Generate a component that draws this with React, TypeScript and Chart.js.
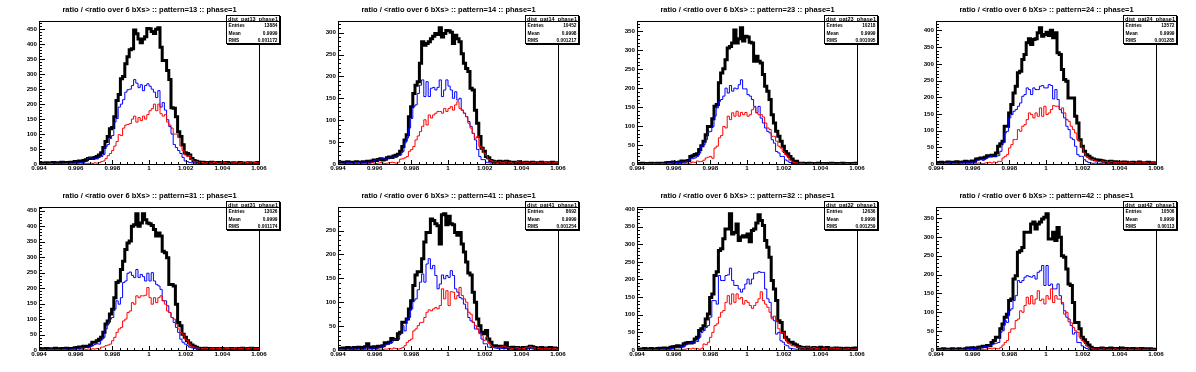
import React, { useEffect, useRef } from "react";
import { Chart, registerables } from "chart.js";

Chart.register(...registerables);

const X_MIN = 0.994;
const X_MAX = 1.006;
const N_BINS = 100;
const X_TICKS = [0.994, 0.996, 0.998, 1, 1.002, 1.004, 1.006];
const X_TICK_LABELS = ["0.994", "0.996", "0.998", "1", "1.002", "1.004", "1.006"];
const X_MINOR_PER_MAJOR = 5;
const Y_TICK_STEP = 50;
const Y_MINOR_PER_MAJOR = 5;

const PATTERNS = ["13", "14", "23", "24", "31", "41", "32", "42"];
const ENTRIES = ["13884", "10452", "10218", "13572", "13026", "8692", "12636", "10506"];
const MEANS = ["0.9999", "0.9998", "0.9999", "0.9999", "0.9999", "0.9999", "0.9999", "0.9999"];
const RMS_VALUES = ["0.001172", "0.001217", "0.001095", "0.001285", "0.001174", "0.001254", "0.001259", "0.00113"];
const Y_LABEL_TOPS = [450, 300, 350, 400, 450, 250, 400, 350];

// ---- pattern 13 ----
const P13_TOTAL = [
  2,3,1,4,2,3,5,2,4,3, 6,3,5,4,6,5,8,7,10,9, 12,14,
  18,20,18,22,25,30,38,55,75,92, 118,122,158,212,232,285,292,335,358,382, 385,448,435,418,405,418,425,453,452,443, 436,450,455,390,346,346,312,282,188,186, 158,108,92,64,38,35,30,18,12,9,
  7,5,6,4,5,3,6,4,3,5, 2,4,3,5,2,3,4,2,3,5, 2,3,1,4,2,3,2,5,
];
const P13_BLUE = [
  0,1,0,2,1,0,3,1,2,1, 3,2,1,2,3,2,4,3,5,4, 6,8,
  20,22,15,18,17,22,25,32,58,65, 85,95,140,152,190,200,215,240,248,250, 262,282,270,255,265,245,262,268,260,250, 240,222,245,190,205,180,148,125,100,65, 55,45,35,22,10,8,5,4,3,2,
  2,1,3,1,2,0,2,1,1,2, 0,1,2,1,0,1,2,0,1,1, 0,2,1,0,1,2,0,1,
];
const P13_RED = [
  0,0,1,0,0,2,0,1,0,0, 1,0,2,0,1,0,1,2,0,1, 2,1,
  2,3,2,4,3,5,8,10,18,28, 35,45,60,75,98,95,120,130,132,135, 150,160,140,155,145,160,150,165,178,185, 200,178,200,168,160,165,140,130,120,100, 100,88,60,45,30,25,28,15,9,8,
  6,4,5,3,6,4,3,5,4,2, 4,3,5,3,2,4,3,5,2,4, 6,3,5,4,6,3,5,4,
];

// ---- pattern 14 ----
const P14_TOTAL = [
  3,2,4,3,5,2,4,3,5,4, 3,5,4,6,5,7,9,8,10,12, 9,11,
  14,16,15,18,20,22,29,40,55,67, 108,131,161,180,188,230,279,271,275,279, 286,292,298,296,311,290,298,305,304,301, 275,294,286,279,252,230,218,211,173,169, 123,93,63,36,29,17,14,8,6,5,
  5,6,4,5,6,5,4,3,4,3, 5,2,3,4,3,2,4,3,2,3, 4,2,3,2,3,4,2,3,
];
const P14_BLUE = [
  1,2,1,3,2,4,1,3,2,4, 3,2,4,3,5,4,8,10,9,11, 12,10,
  12,15,14,16,15,20,21,29,48,59, 82,104,131,135,161,180,192,154,188,154, 173,175,169,175,192,154,169,192,178,169, 150,165,146,150,123,116,108,97,86,70, 55,33,17,10,10,4,3,2,2,1,
  2,1,0,2,1,1,0,2,1,0, 1,2,0,1,1,0,2,1,0,1, 0,1,2,0,1,0,1,1,
];
const P14_RED = [
  0,1,0,0,2,0,1,0,2,1, 0,1,0,2,1,3,2,1,2,3, 2,1,
  2,3,4,3,2,4,11,12,14,17, 29,33,40,55,64,74,86,101,89,112, 105,112,116,120,120,116,127,120,127,131, 123,135,142,127,123,116,108,93,82,70, 59,63,40,36,25,19,11,8,6,5,
  4,5,3,4,5,3,4,2,3,5, 4,3,2,4,3,2,3,4,2,3, 2,4,3,2,3,2,3,4,
];

// ---- pattern 23 ----
const P23_TOTAL = [
  1,0,2,1,0,1,2,0,1,2, 1,2,1,3,4,3,5,4,3,5, 8,7,
  8,9,20,22,25,27,38,48,60,77, 99,99,119,152,157,214,240,251,275,306, 310,319,353,319,330,359,324,337,335,321, 319,271,284,271,266,236,205,192,170,130, 108,86,73,60,47,33,27,20,13,4,
  7,2,1,2,0,1,2,1,0,1, 2,1,0,1,1,0,2,1,0,1, 1,2,0,1,0,1,1,2,
];
const P23_BLUE = [
  0,1,0,0,1,0,2,1,0,1, 0,2,1,2,3,2,4,3,5,4, 6,5,
  7,8,15,14,16,20,29,47,51,64, 84,86,99,126,148,165,170,179,200,187, 207,192,200,198,209,222,198,198,183,179, 170,152,135,152,121,108,95,86,82,64, 55,33,29,20,20,11,8,4,2,1,
  1,0,1,0,0,1,0,1,0,0, 1,0,0,1,0,0,1,0,0,0, 1,0,0,1,0,0,0,1,
];
const P23_RED = [
  0,0,0,1,0,0,0,1,0,0, 0,1,0,0,1,0,0,1,0,1, 0,1,
  2,1,3,5,4,8,6,7,10,16, 18,20,15,42,47,69,75,99,95,126, 117,135,126,139,126,136,130,136,126,130, 143,150,135,130,130,124,108,95,91,73, 73,60,47,42,33,25,20,11,7,4,
  3,1,2,1,0,1,0,1,2,0, 1,0,1,0,0,1,0,1,0,0, 1,0,0,1,0,0,1,0,
];

// ---- pattern 24 ----
const P24_TOTAL = [
  3,2,5,3,4,6,3,5,4,7, 5,4,6,8,5,7,9,8,15,16, 18,17,
  20,25,24,26,25,33,53,61,68,113, 113,153,178,213,233,273,278,313,328,363, 375,358,373,375,393,408,383,388,395,385, 401,378,393,333,328,283,253,248,198,198, 198,143,123,73,53,38,28,23,18,15,
  13,12,11,10,8,7,6,8,5,7, 6,5,4,6,5,3,4,5,3,4, 6,3,4,3,5,2,4,3,
];
const P24_BLUE = [
  1,2,0,3,1,2,4,2,3,1, 4,2,3,5,4,3,6,5,10,12, 14,11,
  15,20,22,25,24,23,25,38,63,93, 98,138,148,158,163,173,183,203,208,228, 223,208,228,223,223,233,235,228,228,238, 235,195,223,193,163,153,138,113,103,78, 73,53,28,23,23,13,8,4,3,2,
  3,2,1,2,3,1,2,1,0,2, 1,1,2,0,1,1,2,0,1,2, 1,0,1,1,0,2,1,1,
];
const P24_RED = [
  0,1,0,0,2,1,0,1,0,2, 0,1,2,0,1,0,2,1,2,3, 2,1,
  3,4,5,3,6,4,8,8,18,23, 28,48,58,73,73,103,98,113,118,133, 153,148,138,153,143,168,143,173,148,153, 163,175,173,173,163,168,153,133,128,113, 103,93,73,68,48,33,23,18,13,13,
  10,8,7,9,6,8,5,7,6,5, 4,6,3,5,4,3,5,4,2,4, 3,5,3,4,2,3,4,3,
];

// ---- pattern 31 ----
const P31_TOTAL = [
  2,4,3,5,2,4,3,6,4,3, 5,4,6,3,5,4,7,8,10,9, 12,11,
  12,16,25,25,30,35,41,57,84,94, 116,132,169,218,223,260,287,325,346,352, 400,405,440,400,410,440,421,410,408,402, 389,368,378,368,319,314,298,212,212,207, 148,89,78,51,41,30,23,16,12,9,
  6,5,4,6,3,5,4,3,5,4, 3,5,4,3,4,5,3,4,5,4, 6,5,4,5,6,5,4,5,
];
const P31_BLUE = [
  1,0,2,1,0,3,1,2,0,2, 1,3,2,1,3,2,4,5,6,8, 7,9,
  10,12,15,18,20,19,33,41,68,84, 100,105,132,159,148,169,218,223,248,252, 241,234,260,234,244,237,223,248,223,250, 223,212,207,196,159,159,143,121,105,89, 73,57,35,25,19,14,9,7,5,4,
  3,2,1,2,3,1,0,2,1,1, 2,0,1,2,1,0,1,2,0,1, 1,0,2,1,0,1,1,2,
];
const P31_RED = [
  0,0,1,0,1,0,2,0,1,0, 1,2,0,1,0,2,1,0,2,1, 3,2,
  3,2,4,3,5,3,9,10,14,16, 19,30,41,57,68,73,94,100,121,126, 153,148,175,169,175,175,177,202,169,148, 169,153,169,175,159,148,126,121,105,100, 84,68,57,51,35,30,19,12,9,7,
  6,5,4,6,5,3,5,4,6,4, 5,3,6,4,5,5,4,6,5,4, 5,6,4,5,6,5,4,5,
];

// ---- pattern 41 ----
const P41_TOTAL = [
  2,3,4,3,5,4,3,5,4,6, 4,5,7,13,6,5,7,6,8,7, 9,15,
  14,16,24,22,22,34,37,58,58,65, 86,103,135,157,164,164,191,226,246,246, 274,271,264,260,222,283,285,262,280,264, 262,246,240,246,222,205,184,161,157,121, 100,65,51,37,34,41,23,16,8,9,
  8,7,8,6,15,5,4,6,3,5, 4,3,5,4,6,8,7,5,4,3, 5,4,3,4,5,3,4,3,
];
const P41_BLUE = [
  1,2,1,0,2,1,3,2,1,3, 2,1,4,6,3,2,4,3,5,6, 8,10,
  12,15,16,22,22,22,34,51,40,65, 68,86,103,107,126,142,159,142,180,191, 170,177,156,128,138,157,149,156,152,166, 156,128,121,110,107,96,86,68,61,58, 44,44,37,23,13,13,6,5,6,4,
  3,2,4,2,3,1,2,3,1,2, 1,0,2,1,3,4,2,1,2,1, 0,2,1,1,0,2,1,1,
];
const P41_RED = [
  0,1,0,0,1,0,0,2,0,1, 0,0,1,2,0,1,0,1,2,0, 1,2,
  2,3,2,4,3,2,3,5,9,16, 20,23,40,44,51,57,58,68,79,84, 82,86,89,86,93,128,107,124,93,122, 121,107,114,131,114,107,100,79,75,58, 51,44,34,30,20,27,16,10,6,5,
  6,5,7,8,6,5,4,3,4,5, 3,4,3,6,5,7,5,4,3,4, 2,3,4,2,3,2,3,2,
];

// ---- pattern 32 ----
const P32_TOTAL = [
  2,3,2,4,3,2,4,3,2,4, 5,5,6,5,4,8,9,10,12,9, 11,18,
  20,21,20,22,31,36,55,60,69,88, 102,149,159,211,222,282,287,315,343,343, 386,329,333,357,310,320,324,320,329,307, 339,343,360,383,367,353,310,291,263,197, 173,140,83,78,50,36,29,22,22,17,
  14,10,8,6,7,8,5,6,7,5, 6,8,5,6,7,5,4,5,6,4, 5,3,4,5,3,4,5,6,
];
const P32_BLUE = [
  0,1,0,2,1,0,1,2,0,1, 2,1,3,2,1,4,5,6,7,8, 9,10,
  15,18,20,22,25,24,36,50,55,64, 69,93,140,140,130,211,197,197,211,213, 232,197,183,183,173,164,173,187,201,187, 201,218,218,222,220,220,173,145,135,93, 83,45,50,26,22,14,12,5,4,3,
  2,3,1,2,1,0,2,1,1,0, 2,1,0,1,2,0,1,1,0,2, 1,0,1,1,2,0,1,1,
];
const P32_RED = [
  0,0,1,0,0,1,0,0,1,0, 0,2,0,1,0,1,0,2,1,0, 1,2,
  3,4,3,5,3,4,2,5,17,15, 22,36,50,69,74,93,107,112,135,154, 130,159,135,159,145,149,130,140,135,126, 118,126,135,145,165,140,130,121,107,88, 96,83,60,50,50,31,22,17,12,12,
  9,8,6,7,5,8,6,5,7,4, 5,3,4,5,3,5,6,5,4,5, 3,4,2,3,4,3,2,3,
];

// ---- pattern 42 ----
const P42_TOTAL = [
  1,2,1,3,2,1,2,3,1,2, 3,2,1,3,5,4,6,5,4,7, 8,10,
  9,12,11,20,25,34,34,56,69,87, 95,131,135,188,197,259,263,272,312,312, 312,334,339,321,334,339,347,352,361,294, 294,312,290,325,299,250,246,215,175,171, 126,73,73,56,34,27,20,13,7,4,
  3,4,3,5,3,4,2,5,4,3, 4,3,5,3,4,2,3,4,3,2, 3,4,2,3,2,3,2,2,
];
const P42_BLUE = [
  0,1,0,1,2,0,1,0,2,1, 0,1,2,1,3,4,5,4,6,5, 7,8,
  9,10,12,14,16,18,20,47,51,78, 73,104,109,131,144,184,179,184,193,197, 195,193,197,188,206,210,224,171,224,171, 175,162,162,175,144,122,104,87,82,65, 42,47,20,20,11,7,4,2,1,2,
  1,0,2,1,0,1,1,0,2,0, 1,1,0,1,0,2,1,0,1,0, 1,1,0,0,1,0,1,0,
];
const P42_RED = [
  0,0,1,0,0,1,0,0,0,1, 0,1,0,0,1,0,1,0,0,1, 2,1,
  2,3,4,3,5,4,3,7,13,20, 25,47,56,56,78,82,104,100,118,140, 122,144,122,135,157,131,135,122,144,135, 162,126,144,135,135,126,95,100,75,72, 60,51,47,34,25,20,11,7,4,3,
  2,3,1,2,3,1,2,2,1,3, 2,1,2,1,3,2,1,2,1,2, 3,1,2,1,2,1,2,1,
];

const TOTALS = [P13_TOTAL, P14_TOTAL, P23_TOTAL, P24_TOTAL, P31_TOTAL, P41_TOTAL, P32_TOTAL, P42_TOTAL];
const BLUES = [P13_BLUE, P14_BLUE, P23_BLUE, P24_BLUE, P31_BLUE, P41_BLUE, P32_BLUE, P42_BLUE];
const REDS = [P13_RED, P14_RED, P23_RED, P24_RED, P31_RED, P41_RED, P32_RED, P42_RED];

const FONT = "'Liberation Sans', Arial, Helvetica, sans-serif";
const PANEL_W = 299;
const PANEL_H = 186;

function makeFramePlugin(yMax: number) {
  return {
    id: "rootFrame",
    afterDatasetsDraw(chart: any) {
      const { ctx, chartArea, scales } = chart;
      const L = Math.round(chartArea.left);
      const R = Math.round(chartArea.right);
      const T = Math.round(chartArea.top);
      const B = Math.round(chartArea.bottom);
      ctx.save();
      ctx.strokeStyle = "#000";
      ctx.lineWidth = 1;
      ctx.strokeRect(L + 0.5, T + 0.5, R - L, B - T);
      ctx.beginPath();
      const xStep = (X_TICKS[1] - X_TICKS[0]) / X_MINOR_PER_MAJOR;
      const nx = Math.round((X_MAX - X_MIN) / xStep);
      for (let k = 0; k <= nx; k++) {
        const px = Math.round(scales.x.getPixelForValue(X_MIN + k * xStep)) + 0.5;
        const len = k % X_MINOR_PER_MAJOR === 0 ? 4 : 2;
        ctx.moveTo(px, B);
        ctx.lineTo(px, B - len);
      }
      const yStep = Y_TICK_STEP / Y_MINOR_PER_MAJOR;
      for (let k = 0; k * yStep <= yMax; k++) {
        const py = Math.round(scales.y.getPixelForValue(k * yStep)) + 0.5;
        const len = k % Y_MINOR_PER_MAJOR === 0 ? 6 : 3;
        ctx.moveTo(L, py);
        ctx.lineTo(L + len, py);
      }
      ctx.stroke();
      ctx.restore();
    },
  };
}

function makeStatsPlugin(idx: number) {
  return {
    id: "rootStats",
    afterDraw(chart: any) {
      const { ctx } = chart;
      const x0 = 226, x1 = 279, y0 = 15, y1 = 43, yh = 21;
      ctx.save();
      ctx.fillStyle = "#fff";
      ctx.fillRect(x0, y0, x1 - x0, y1 - y0);
      ctx.fillStyle = "#000";
      ctx.fillRect(x0 + 1, y1 + 1, x1 - x0 + 1, 1);
      ctx.fillRect(x1 + 1, y0 + 1, 1, y1 - y0 + 1);
      ctx.strokeStyle = "#000";
      ctx.lineWidth = 1;
      ctx.strokeRect(x0 + 0.5, y0 + 0.5, x1 - x0, y1 - y0);
      ctx.beginPath();
      ctx.moveTo(x0, yh + 0.5);
      ctx.lineTo(x1 + 1, yh + 0.5);
      ctx.stroke();
      ctx.fillStyle = "#000";
      ctx.textBaseline = "middle";
      ctx.font = `bold 6px ${FONT}`;
      ctx.textAlign = "center";
      ctx.fillText(`dist_pat${PATTERNS[idx]}_phase1`, (x0 + x1) / 2 + 0.5, (y0 + yh) / 2 + 1.5, x1 - x0 - 3);
      ctx.font = `bold 4.8px ${FONT}`;
      const rows: [string, string][] = [
        ["Entries", ENTRIES[idx]],
        ["Mean", MEANS[idx]],
        ["RMS", RMS_VALUES[idx]],
      ];
      rows.forEach(([k, v], r) => {
        const y = 26 + r * 7.3;
        ctx.textAlign = "left";
        ctx.fillText(k, x0 + 2.5, y);
        ctx.textAlign = "right";
        ctx.fillText(v, x1 - 1.5, y);
      });
      ctx.restore();
    },
  };
}

function Panel({ idx }: { idx: number }) {
  const ref = useRef<HTMLCanvasElement | null>(null);
  useEffect(() => {
    const canvas = ref.current;
    if (!canvas) return;
    const total = TOTALS[idx];
    const yMax = Math.max(...total) * 1.05;
    const binW = (X_MAX - X_MIN) / N_BINS;
    const toPts = (vals: number[]) => [
      ...vals.map((v, i) => ({ x: X_MIN + i * binW, y: v })),
      { x: X_MAX, y: vals[vals.length - 1] },
    ];
    const yTicks: number[] = [];
    for (let v = 0; v <= Y_LABEL_TOPS[idx]; v += Y_TICK_STEP) yTicks.push(v);
    const tickFont = { family: FONT, size: 6.2, weight: "bold" as const };
    const common = { pointRadius: 0, fill: false, tension: 0, stepped: true, borderCapStyle: "butt", borderJoinStyle: "miter" };
    const chart = new Chart(canvas, {
      type: "line",
      data: {
        datasets: [
          { label: "all", data: toPts(TOTALS[idx]), borderColor: "#000000", borderWidth: 3, order: 3, ...common } as any,
          { label: "blue", data: toPts(BLUES[idx]), borderColor: "#0000ff", borderWidth: 1, order: 2, ...common } as any,
          { label: "red", data: toPts(REDS[idx]), borderColor: "#ff0000", borderWidth: 1, order: 1, ...common } as any,
        ],
      },
      options: {
        animation: false,
        responsive: false,
        devicePixelRatio: 1,
        events: [],
        layout: { padding: 0 },
        plugins: {
          legend: { display: false },
          tooltip: { enabled: false },
          title: {
            display: true,
            text: `ratio / <ratio over 6 bXs> :: pattern=${PATTERNS[idx]} :: phase=1`,
            color: "#000",
            font: { family: FONT, size: 7.5, weight: "bold" },
            padding: { top: 5, bottom: 7 },
          },
        },
        scales: {
          x: {
            type: "linear",
            min: X_MIN,
            max: X_MAX,
            afterBuildTicks: (s: any) => { s.ticks = X_TICKS.map((v) => ({ value: v })); },
            afterFit: (s: any) => { s.height = 22; },
            ticks: {
              autoSkip: false,
              maxRotation: 0,
              minRotation: 0,
              padding: 1,
              color: "#000",
              font: tickFont,
              callback: (_v: any, i: number) => X_TICK_LABELS[i],
            },
            grid: { display: false, drawTicks: false, tickLength: 0 },
            border: { display: false },
          },
          y: {
            type: "linear",
            min: 0,
            max: yMax,
            afterBuildTicks: (s: any) => { s.ticks = yTicks.map((v) => ({ value: v })); },
            afterFit: (s: any) => { s.width = 39; },
            ticks: {
              padding: 2,
              color: "#000",
              font: tickFont,
              callback: (v: any) => String(v),
            },
            grid: { display: false, drawTicks: false, tickLength: 0 },
            border: { display: false },
          },
          yRight: {
            type: "linear",
            position: "right",
            min: 0,
            max: yMax,
            afterFit: (s: any) => { s.width = 40; },
            ticks: { display: false },
            grid: { display: false, drawTicks: false, tickLength: 0 },
            border: { display: false },
          },
        },
      } as any,
      plugins: [makeFramePlugin(yMax), makeStatsPlugin(idx)],
    });
    return () => chart.destroy();
  }, [idx]);
  return (
    <canvas
      ref={ref}
      width={PANEL_W}
      height={PANEL_H}
      style={{ display: "block", width: PANEL_W, height: PANEL_H }}
    />
  );
}

export default function App() {
  return (
    <div
      style={{
        position: "absolute",
        left: 0,
        top: 0,
        width: 1196,
        height: 372,
        background: "#fff",
        display: "grid",
        gridTemplateColumns: `repeat(4, ${PANEL_W}px)`,
        gridTemplateRows: `repeat(2, ${PANEL_H}px)`,
      }}
    >
      {PATTERNS.map((_, i) => (
        <Panel key={i} idx={i} />
      ))}
    </div>
  );
}
